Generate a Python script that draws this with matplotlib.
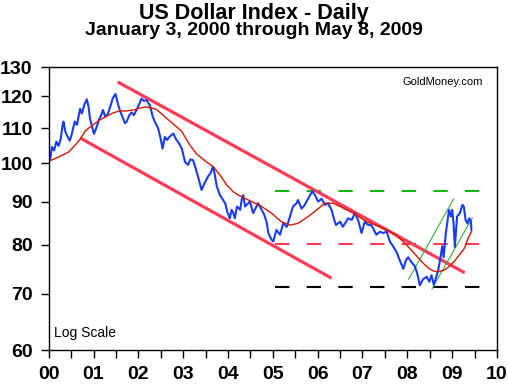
import matplotlib
matplotlib.use('Agg')
import matplotlib.pyplot as plt
import numpy as np

plt.rcParams['font.family'] = ['Liberation Sans', 'DejaVu Sans']

# daily index (x in years since Jan 2000)
IDX_YEAR = [0.00, 0.04, 0.07, 0.12, 0.17, 0.22, 0.27, 0.31, 0.33, 0.37, 0.42, 0.47, 0.52, 0.58, 0.63,
            0.70, 0.74, 0.80, 0.85, 0.89, 0.92, 0.96, 1.01, 1.06, 1.12, 1.17, 1.21, 1.26, 1.32, 1.38,
            1.43, 1.49, 1.55, 1.60, 1.66, 1.70, 1.74, 1.80, 1.85, 1.90, 1.96, 2.02, 2.07, 2.12, 2.18,
            2.26, 2.32, 2.38, 2.44, 2.50, 2.54, 2.59, 2.64, 2.70, 2.78, 2.85, 2.91, 2.97, 3.04, 3.11,
            3.16, 3.22, 3.28, 3.34, 3.41, 3.49, 3.56, 3.62, 3.66, 3.69, 3.75, 3.82, 3.89, 3.94, 3.98,
            4.04, 4.08, 4.12, 4.15, 4.20, 4.27, 4.31, 4.34, 4.38, 4.44, 4.49, 4.56, 4.62, 4.67, 4.75,
            4.80, 4.86, 4.90, 4.97, 5.01, 5.08, 5.16, 5.23, 5.31, 5.38, 5.45, 5.53, 5.56, 5.64, 5.70,
            5.75, 5.83, 5.88, 5.94, 6.01, 6.09, 6.16, 6.23, 6.31, 6.37, 6.41, 6.50, 6.56, 6.61, 6.68,
            6.76, 6.83, 6.90, 6.98, 7.05, 7.13, 7.19, 7.24, 7.31, 7.39, 7.46, 7.54, 7.61, 7.68, 7.76,
            7.83, 7.91, 7.97, 8.02, 8.09, 8.17, 8.22, 8.28, 8.35, 8.43, 8.49, 8.54, 8.59, 8.65, 8.69,
            8.74, 8.78, 8.81, 8.86, 8.90, 8.93, 8.97, 9.00, 9.03, 9.06, 9.11, 9.17, 9.23, 9.26, 9.30,
            9.34, 9.38, 9.42, 9.43]
IDX_VAL = [100.0, 101.5, 104.5, 103.5, 106.0, 104.8, 107.0, 111.0, 112.0, 109.0, 107.5, 106.3, 108.5, 112.0, 111.0,
           116.0, 114.5, 117.5, 119.0, 116.5, 113.0, 110.8, 108.3, 110.0, 112.5, 114.0, 115.6, 113.5, 114.4, 117.0,
           119.4, 120.8, 117.2, 115.0, 113.0, 111.5, 112.0, 114.0, 114.8, 114.0, 115.6, 117.5, 119.3, 118.5, 118.8,
           117.0, 113.5, 111.5, 110.0, 106.7, 104.0, 107.4, 106.5, 107.5, 108.4, 106.5, 105.5, 104.0, 100.3, 99.5,
           101.0, 100.8, 98.5, 96.0, 92.9, 95.0, 96.5, 97.5, 99.0, 97.8, 93.8, 91.6, 90.4, 89.5, 87.6,
           86.0, 88.0, 87.2, 86.0, 88.8, 88.0, 90.8, 91.6, 88.8, 89.5, 90.0, 87.2, 88.5, 89.6, 88.0,
           87.0, 85.2, 82.6, 81.1, 80.7, 83.3, 82.2, 84.8, 84.0, 86.4, 88.8, 89.6, 90.4, 88.3, 89.0,
           90.0, 91.6, 92.6, 91.6, 90.0, 90.7, 89.2, 89.6, 88.0, 85.6, 84.4, 85.2, 84.0, 84.8, 86.0,
           85.6, 87.2, 85.6, 82.6, 85.2, 84.4, 84.5, 83.6, 82.2, 82.9, 82.6, 82.9, 80.7, 79.7, 78.4,
           76.7, 74.9, 76.7, 77.3, 76.3, 75.4, 74.0, 71.6, 72.8, 73.3, 72.3, 73.6, 71.7, 73.4, 74.7,
           77.3, 79.7, 77.3, 82.6, 85.6, 88.0, 86.4, 88.0, 85.0, 79.5, 86.4, 87.2, 89.2, 88.8, 85.6,
           84.8, 86.0, 85.2, 83.3]

# moving average
MA_YEAR = [0.00, 0.21, 0.44, 0.59, 0.70, 0.81, 0.92, 1.03, 1.14, 1.29, 1.44, 1.59, 1.74, 1.89, 2.04,
           2.18, 2.40, 2.63, 2.82, 2.97, 3.15, 3.30, 3.52, 3.67, 3.82, 3.97, 4.12, 4.30, 4.53, 4.75,
           4.97, 5.19, 5.38, 5.56, 5.79, 5.98, 6.16, 6.35, 6.50, 6.79, 7.09, 7.39, 7.68, 7.91, 8.13,
           8.35, 8.49, 8.60, 8.69, 8.84, 8.96, 9.07, 9.17, 9.28, 9.35, 9.43]
MA_VAL = [100.5, 101.6, 103.0, 105.0, 106.7, 109.1, 110.3, 111.4, 112.5, 113.6, 114.7, 115.3, 115.3, 115.6, 116.2,
          116.6, 115.8, 113.0, 110.8, 109.0, 105.0, 102.5, 100.3, 99.0, 96.8, 94.2, 92.4, 91.2, 90.0, 88.8,
          87.2, 85.2, 84.4, 84.8, 86.4, 88.0, 89.6, 89.6, 88.8, 87.2, 85.2, 84.0, 82.6, 80.7, 78.4,
          76.1, 74.9, 74.4, 74.3, 74.7, 75.6, 76.7, 77.9, 79.3, 81.3, 82.9]

# trend channel (start/end)
CH_UP_X, CH_UP_Y = [1.54, 9.28], [124.8, 74.1]
CH_LO_X, CH_LO_Y = [0.70, 6.31], [107.1, 73.0]
# rising channel from 2008
GR1_X, GR1_Y = [8.03, 9.03], [72.8, 90.6]
GR2_X, GR2_Y = [8.55, 9.45], [70.9, 86.1]
# horizontal levels
LEVEL_X = [5.04, 9.63]
LEVELS = [92.6, 80.2, 71.3]
LEVEL_COLORS = ['#10b810', '#ff3a55', '#000000']

Y_TICKS = [60, 70, 80, 90, 100, 110, 120, 130]
X_LABELS = ['00', '01', '02', '03', '04', '05', '06', '07', '08', '09', '10']

fig = plt.figure(figsize=(5.08, 3.84), dpi=100)
ax = fig.add_axes([0.0959, 0.0885, 0.8824, 0.737])

for lv, c in zip(LEVELS, LEVEL_COLORS):
    ax.plot(LEVEL_X, [lv, lv], color=c, lw=1.5, dashes=(6.9, 8.3))

ax.plot(CH_UP_X, CH_UP_Y, color='#ff3a55', lw=2.3, solid_capstyle='butt')
ax.plot(CH_LO_X, CH_LO_Y, color='#ff3a55', lw=2.3, solid_capstyle='butt')
ax.plot(GR1_X, GR1_Y, color='#33b033', lw=0.8)
ax.plot(GR2_X, GR2_Y, color='#33b033', lw=0.8)
ax.plot(IDX_YEAR, IDX_VAL, color='#1a3cf0', lw=1.5)
ax.plot(MA_YEAR, MA_VAL, color='#cc1a00', lw=1.0)

ax.set_yscale('log')
ax.set_ylim(60, 130)
ax.set_xlim(0, 10)
ax.yaxis.set_major_locator(matplotlib.ticker.FixedLocator(Y_TICKS))
ax.yaxis.set_minor_locator(matplotlib.ticker.NullLocator())
ax.set_yticklabels([str(v) for v in Y_TICKS])
ax.set_xticks(range(len(X_LABELS)))
ax.set_xticklabels(X_LABELS)
ax.set_xticks(np.arange(0.5, 10, 1.0), minor=True)

ax.tick_params(axis='both', which='both', direction='out', length=5.5, width=1.0, color='black')
ax.tick_params(axis='y', labelsize=14, pad=6)
ax.tick_params(axis='x', labelsize=14, pad=6)
for lab in ax.get_xticklabels() + ax.get_yticklabels():
    lab.set_fontweight('bold')
for s in ax.spines.values():
    s.set_linewidth(1.0)

ax.text(0.969, 0.965, 'GoldMoney.com', transform=ax.transAxes, ha='right', va='top', fontsize=8)
ax.text(0.012, 0.035, 'Log Scale', transform=ax.transAxes, ha='left', va='bottom', fontsize=10)

fig.text(0.5, 0.951, 'US Dollar Index - Daily', ha='center', va='baseline', fontsize=15.5, fontweight='bold')
fig.text(0.5, 0.909, 'January 3, 2000 through May 8, 2009', ha='center', va='baseline', fontsize=14, fontweight='bold')

fig.savefig('out.png', dpi=100)
